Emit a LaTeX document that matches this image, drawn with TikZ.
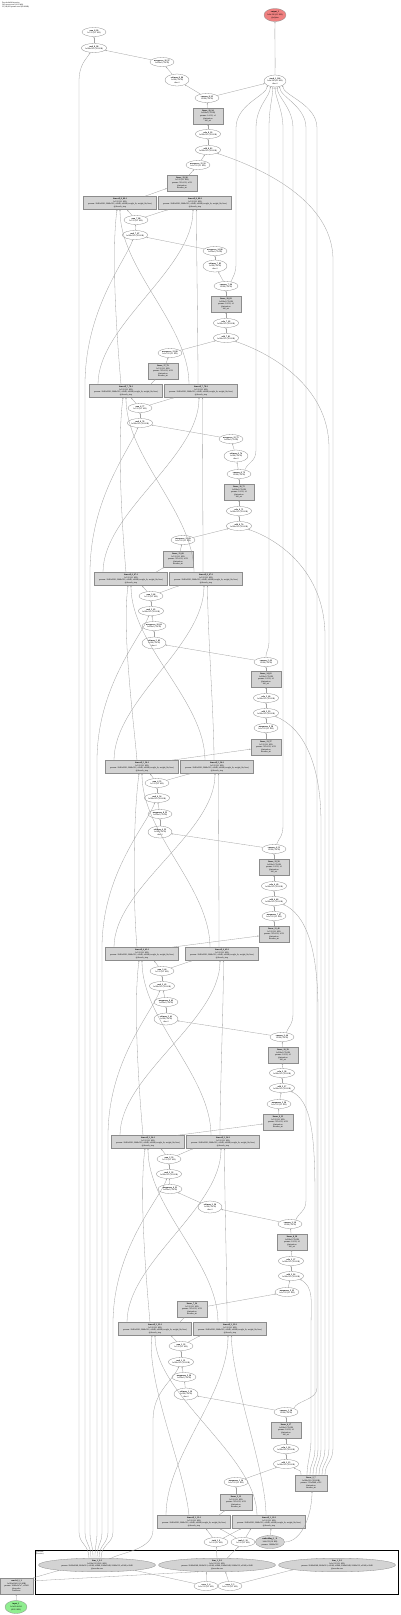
\documentclass[tikz,border=0pt]{standalone}
\usepackage{fontspec}
\setmainfont{Liberation Serif}
\usetikzlibrary{shapes.geometric,arrows.meta,calc}
\definecolor{edgec}{HTML}{A0A0A0}
\definecolor{ndraw}{HTML}{8C8C8C}
\definecolor{boxf}{HTML}{D3D3D3}
\definecolor{outf}{HTML}{F08080}
\definecolor{inf}{HTML}{90EE90}
\newcommand{\nf}{\fontsize{2.1}{2.6}\selectfont}
\newcommand{\hf}{\fontsize{1.9}{2.3}\selectfont}
\newcommand{\lab}[2]{\textbf{#1}\\#2}
\newcommand{\labc}[3]{\textbf{#1}\\#2\\#3}
\newcommand{\labb}[5]{\textbf{#1}\\#2\\#3\\#4\\#5}
\newcommand{\labw}[2]{\textbf{#1}\\#2\\params: 2048x2560, 2048x512, x2048, x2048 (weight\_ih, weight\_hh, bias)\\@decode\_step}
\newcommand{\pairlinks}[4]{%
 \draw[e] ($(#3.north)+(-5,0)$) .. controls +(-4,-45) and +(-6,45) .. ($(#1.south)+(-3,0)$);
 \draw[e] ($(#3.north)+(-28,0)$) .. controls +(0,-60) and +(0,60) .. ($(#2.south)+(-2,0)$);
 \draw[e] ($(#4.north)+(-12,0)$) .. controls +(0,-60) and +(0,60) .. ($(#1.south)+(0,0)$);
 \draw[e] ($(#4.north)+(-3,0)$) .. controls +(0,-45) and +(0,45) .. ($(#2.south)+(1.5,0)$);}
\tikzset{
 ell/.style={ellipse, draw=ndraw, fill=white, line width=0.3pt, minimum width=24pt, minimum height=9pt, inner sep=0pt, align=center, font=\nf},
 ellc/.style={ell, minimum height=12pt},
 gbox/.style={rectangle, draw=ndraw, fill=boxf, line width=0.3pt, minimum width=30pt, minimum height=16pt, inner sep=0pt, align=center, font=\nf},
 wbox/.style={gbox, minimum width=73pt, minimum height=13pt},
 bige/.style={ell, fill=boxf, minimum width=117pt, minimum height=13pt},
 e/.style={draw=edgec, line width=0.3pt, -{Stealth[length=1.6pt,width=1.2pt]}},
}
\begin{document}
\begin{tikzpicture}[x=1pt,y=-1pt]
\useasboundingbox (0,0) rectangle (400,1615);
\fill[white] (0,0) rectangle (400,1615);
\node[anchor=north west, inner sep=0pt, align=left, font=\hf] (hdr) at (2,1.5) {DecoderWithAttention\\342 tensors total (41.3 MB)\\23,546,881 params total (89.8 MB)};
% cluster
\node[draw=black, line width=0.9pt, minimum width=363pt, minimum height=44pt, inner sep=0pt, anchor=north west] (cl) at (35,1550) {};
\node[anchor=north west, inner sep=0.6pt, align=left, font=\hf] (cllab) at (cl.north west) {@encoder\\(Encoder)};
% output
\node[ell, fill=outf, minimum width=22pt, minimum height=13pt] (N0) at (275,15) {\labc{output\_1}{1x8x196 (6.2 KB)}{@alphas}};
% block 8
\node[ell] (N1) at (94,32) {\lab{sum\_8\_99}{1x512 (2.1 KB)}};
\node[ell] (N2) at (94,48) {\lab{mul\_8\_98}{1x196x512 (392 KB)}};
\node[ell] (N3) at (162,62) {\lab{unsqueeze\_16\_97}{1x196x1 (784 B)}};
\node[ellc] (N4) at (177,80) {\labc{softmax\_8\_96}{1x196 (784 B)}{dim=1}};
\node[ellc, minimum width=22pt] (N5) at (275,81) {\labc{stack\_1\_100}{1x8x196 (6.2 KB)}{dim=1}};
\node[ell] (N6) at (207,98) {\lab{squeeze\_8\_95}{1x196 (784 B)}};
\node[gbox] (N7) at (208,116) {\labb{linear\_20\_94}{1x196x1 (784 B)}{params: 1x512, x1}{@attention.}{full\_att}};
\node[ell] (N8) at (208,134) {\lab{relu\_8\_93}{1x196x512 (392 KB)}};
\node[ell] (N9) at (208,150) {\lab{add\_8\_92}{1x196x512 (392 KB)}};
\node[ell] (N10) at (198,165) {\lab{unsqueeze\_15\_91}{1x1x512 (2.1 KB)}};
\node[gbox] (N11) at (182,183) {\labb{linear\_19\_90}{1x512 (2.1 KB)}{params: 512x512, x512}{@attention.}{decoder\_att}};
\node[wbox] (N12) at (120,203) {\labw{lstmcell\_8\_89:1}{1x512 (2.1 KB)}};
\node[wbox] (N13) at (195,203) {\labw{lstmcell\_8\_89:2}{1x512 (2.1 KB)}};
% block 7
\node[ell] (N14) at (136,220) {\lab{sum\_7\_88}{1x512 (2.1 KB)}};
\node[ell] (N15) at (135,235) {\lab{mul\_7\_87}{1x196x512 (392 KB)}};
\node[ell] (N16) at (215,251) {\lab{unsqueeze\_14\_86}{1x196x1 (784 B)}};
\node[ellc] (N17) at (215,266) {\labc{softmax\_7\_85}{1x196 (784 B)}{dim=1}};
\node[ell] (N18) at (226,286) {\lab{squeeze\_7\_84}{1x196 (784 B)}};
\node[gbox] (N19) at (226,304) {\labb{linear\_18\_83}{1x196x1 (784 B)}{params: 1x512, x1}{@attention.}{full\_att}};
\node[ell] (N20) at (226,323) {\lab{relu\_7\_82}{1x196x512 (392 KB)}};
\node[ell] (N21) at (226,338) {\lab{add\_7\_81}{1x196x512 (392 KB)}};
\node[ell] (N22) at (170,353) {\lab{unsqueeze\_13\_80}{1x1x512 (2.1 KB)}};
\node[gbox] (N23) at (163,371) {\labb{linear\_17\_79}{1x512 (2.1 KB)}{params: 512x512, x512}{@attention.}{decoder\_att}};
\node[wbox] (N24) at (126,391) {\labw{lstmcell\_7\_78:1}{1x512 (2.1 KB)}};
\node[wbox] (N25) at (201,391) {\labw{lstmcell\_7\_78:2}{1x512 (2.1 KB)}};
% block 6
\node[ell] (N26) at (140,408) {\lab{sum\_6\_77}{1x512 (2.1 KB)}};
\node[ell] (N27) at (140,423) {\lab{mul\_6\_76}{1x196x512 (392 KB)}};
\node[ell] (N28) at (231,439) {\lab{unsqueeze\_12\_75}{1x196x1 (784 B)}};
\node[ellc] (N29) at (236,456) {\labc{softmax\_6\_74}{1x196 (784 B)}{dim=1}};
\node[ell] (N30) at (239,474) {\lab{squeeze\_6\_73}{1x196 (784 B)}};
\node[gbox] (N31) at (239,492) {\labb{linear\_16\_72}{1x196x1 (784 B)}{params: 1x512, x1}{@attention.}{full\_att}};
\node[ell] (N32) at (239,511) {\lab{relu\_6\_71}{1x196x512 (392 KB)}};
\node[ell] (N33) at (239,526) {\lab{add\_6\_70}{1x196x512 (392 KB)}};
\node[ell] (N34) at (183,540) {\lab{unsqueeze\_11\_69}{1x1x512 (2.1 KB)}};
\node[gbox] (N35) at (178,559) {\labb{linear\_15\_68}{1x512 (2.1 KB)}{params: 512x512, x512}{@attention.}{decoder\_att}};
\node[wbox] (N36) at (131,579) {\labw{lstmcell\_6\_67:1}{1x512 (2.1 KB)}};
\node[wbox] (N37) at (206,579) {\labw{lstmcell\_6\_67:2}{1x512 (2.1 KB)}};
% block 5
\node[ell] (N38) at (151,596) {\lab{sum\_5\_66}{1x512 (2.1 KB)}};
\node[ell] (N39) at (151,611) {\lab{mul\_5\_65}{1x196x512 (392 KB)}};
\node[ell] (N40) at (154,626) {\lab{unsqueeze\_10\_64}{1x196x1 (784 B)}};
\node[ellc] (N41) at (154,643) {\labc{softmax\_5\_63}{1x196 (784 B)}{dim=1}};
\node[ell] (N42) at (266,662) {\lab{squeeze\_5\_62}{1x196 (784 B)}};
\node[gbox] (N43) at (266,679) {\labb{linear\_14\_61}{1x196x1 (784 B)}{params: 1x512, x1}{@attention.}{full\_att}};
\node[ell] (N44) at (266,698) {\lab{relu\_5\_60}{1x196x512 (392 KB)}};
\node[ell] (N45) at (266,713) {\lab{add\_5\_59}{1x196x512 (392 KB)}};
\node[ell] (N46) at (266,728) {\lab{unsqueeze\_9\_58}{1x1x512 (2.1 KB)}};
\node[gbox] (N47) at (266,747) {\labb{linear\_13\_57}{1x512 (2.1 KB)}{params: 512x512, x512}{@attention.}{decoder\_att}};
\node[wbox] (N48) at (142,767) {\labw{lstmcell\_5\_56:1}{1x512 (2.1 KB)}};
\node[wbox] (N49) at (217,767) {\labw{lstmcell\_5\_56:2}{1x512 (2.1 KB)}};
% block 4
\node[ell] (N50) at (157,783) {\lab{sum\_4\_55}{1x512 (2.1 KB)}};
\node[ell] (N51) at (157,798) {\lab{mul\_4\_54}{1x196x512 (392 KB)}};
\node[ell] (N52) at (160,814) {\lab{unsqueeze\_8\_53}{1x196x1 (784 B)}};
\node[ellc] (N53) at (160,832) {\labc{softmax\_4\_52}{1x196 (784 B)}{dim=1}};
\node[ell] (N54) at (274,849) {\lab{squeeze\_4\_51}{1x196 (784 B)}};
\node[gbox] (N55) at (274,867) {\labb{linear\_12\_50}{1x196x1 (784 B)}{params: 1x512, x1}{@attention.}{full\_att}};
\node[ell] (N56) at (274,886) {\lab{relu\_4\_49}{1x196x512 (392 KB)}};
\node[ell] (N57) at (274,901) {\lab{add\_4\_48}{1x196x512 (392 KB)}};
\node[ell] (N58) at (274,916) {\lab{unsqueeze\_7\_47}{1x1x512 (2.1 KB)}};
\node[gbox] (N59) at (274,934) {\labb{linear\_11\_46}{1x512 (2.1 KB)}{params: 512x512, x512}{@attention.}{decoder\_att}};
\node[wbox] (N60) at (142,954) {\labw{lstmcell\_4\_45:1}{1x512 (2.1 KB)}};
\node[wbox] (N61) at (222,954) {\labw{lstmcell\_4\_45:2}{1x512 (2.1 KB)}};
% block 3
\node[ell] (N62) at (162,971) {\lab{sum\_3\_44}{1x512 (2.1 KB)}};
\node[ell] (N63) at (162,986) {\lab{mul\_3\_43}{1x196x512 (392 KB)}};
\node[ell] (N64) at (166,1002) {\lab{unsqueeze\_6\_42}{1x196x1 (784 B)}};
\node[ellc] (N65) at (166,1019) {\labc{softmax\_3\_41}{1x196 (784 B)}{dim=1}};
\node[ell] (N66) at (282,1037) {\lab{squeeze\_3\_40}{1x196 (784 B)}};
\node[gbox] (N67) at (283,1055) {\labb{linear\_10\_39}{1x196x1 (784 B)}{params: 1x512, x1}{@attention.}{full\_att}};
\node[ell] (N68) at (282,1073) {\lab{relu\_3\_38}{1x196x512 (392 KB)}};
\node[ell] (N69) at (282,1088) {\lab{add\_3\_37}{1x196x512 (392 KB)}};
\node[ell] (N70) at (279,1104) {\lab{unsqueeze\_5\_36}{1x1x512 (2.1 KB)}};
\node[gbox] (N71) at (278,1122) {\labb{linear\_9\_35}{1x512 (2.1 KB)}{params: 512x512, x512}{@attention.}{decoder\_att}};
\node[wbox] (N72) at (148,1142) {\labw{lstmcell\_3\_34:1}{1x512 (2.1 KB)}};
\node[wbox] (N73) at (223,1142) {\labw{lstmcell\_3\_34:2}{1x512 (2.1 KB)}};
% block 2
\node[ell] (N74) at (169,1159) {\lab{sum\_2\_33}{1x512 (2.1 KB)}};
\node[ell] (N75) at (169,1174) {\lab{mul\_2\_32}{1x196x512 (392 KB)}};
\node[ell] (N76) at (170,1189) {\lab{unsqueeze\_4\_31}{1x196x1 (784 B)}};
\node[ellc] (N77) at (210,1207) {\labc{softmax\_2\_30}{1x196 (784 B)}{dim=1}};
\node[ell] (N78) at (290,1224) {\lab{squeeze\_2\_29}{1x196 (784 B)}};
\node[gbox] (N79) at (292,1242) {\labb{linear\_8\_28}{1x196x1 (784 B)}{params: 1x512, x1}{@attention.}{full\_att}};
\node[ell] (N80) at (291,1261) {\lab{relu\_2\_27}{1x196x512 (392 KB)}};
\node[ell] (N81) at (291,1276) {\lab{add\_2\_26}{1x196x512 (392 KB)}};
\node[ell] (N82) at (287,1292) {\lab{unsqueeze\_3\_25}{1x1x512 (2.1 KB)}};
\node[gbox] (N83) at (192,1309) {\labb{linear\_7\_24}{1x512 (2.1 KB)}{params: 512x512, x512}{@attention.}{decoder\_att}};
\node[wbox] (N84) at (155,1329) {\labw{lstmcell\_2\_23:1}{1x512 (2.1 KB)}};
\node[wbox] (N85) at (230,1329) {\labw{lstmcell\_2\_23:2}{1x512 (2.1 KB)}};
% block 1
\node[ell] (N86) at (181,1346) {\lab{sum\_1\_22}{1x512 (2.1 KB)}};
\node[ell] (N87) at (181,1362) {\lab{mul\_1\_21}{1x196x512 (392 KB)}};
\node[ell] (N88) at (184,1377) {\lab{unsqueeze\_2\_20}{1x196x1 (784 B)}};
\node[ellc] (N89) at (186,1394) {\labc{softmax\_1\_19}{1x196 (784 B)}{dim=1}};
\node[ell] (N90) at (286,1412) {\lab{squeeze\_1\_18}{1x196 (784 B)}};
\node[gbox] (N91) at (286,1430) {\labb{linear\_6\_17}{1x196x1 (784 B)}{params: 1x512, x1}{@attention.}{full\_att}};
\node[ell] (N92) at (286,1449) {\lab{relu\_1\_16}{1x196x512 (392 KB)}};
\node[ell] (N93) at (286,1464) {\lab{add\_1\_15}{1x196x512 (392 KB)}};
\node[ell] (N94) at (236,1482) {\lab{unsqueeze\_1\_14}{1x1x512 (2.1 KB)}};
\node[gbox, minimum width=32pt] (N95) at (311,1483) {\labb{linear\_2\_7}{1x196x512 (392 KB)}{params: 512x2048, x512}{@attention.}{encoder\_att}};
\node[gbox, minimum width=32pt] (N96) at (236,1502) {\labb{linear\_5\_13}{1x512 (2.1 KB)}{params: 512x512, x512}{@attention.}{decoder\_att}};
\node[wbox] (N97) at (194,1522) {\labw{lstmcell\_1\_12:1}{1x512 (2.1 KB)}};
\node[wbox] (N98) at (269,1522) {\labw{lstmcell\_1\_12:2}{1x512 (2.1 KB)}};
\node[ell] (N99) at (216,1542) {\lab{tanh\_1\_9}{1x512 (2.1 KB)}};
\node[ell] (N100) at (243,1542) {\lab{tanh\_2\_10}{1x512 (2.1 KB)}};
\node[ellc, fill=boxf, minimum width=29pt, minimum height=13pt] (N101) at (270,1542) {\labc{embedding\_1\_11}{1x8x512 (16 KB)}{params: 10000x512}};
% encoder cluster
\node[bige] (N102) at (97,1565) {\textbf{lstm\_1\_3:1}\\1x196x512 (392.1 KB)\\params: 2048x2048, 2048x512, x2048, x2048, 2048x2048, 2048x512, x2048, x2048\\@encoder.rnn};
\node[bige] (N103) at (217,1565) {\textbf{lstm\_1\_3:2}\\1x1x512 (2.1 KB)\\params: 2048x2048, 2048x512, x2048, x2048, 2048x2048, 2048x512, x2048, x2048\\@encoder.rnn};
\node[bige] (N104) at (337,1565) {\textbf{lstm\_1\_3:3}\\1x1x512 (2.1 KB)\\params: 2048x2048, 2048x512, x2048, x2048, 2048x2048, 2048x512, x2048, x2048\\@encoder.rnn};
\node[ell] (N105) at (206,1586) {\lab{zeros\_1\_4}{1x1x512 (2.1 KB)}};
\node[ell] (N106) at (230,1586) {\lab{zeros\_2\_5}{1x1x512 (2.1 KB)}};
\node[gbox, minimum width=33pt] (N107) at (16.5,1586) {\labb{conv2d\_1\_2}{1x196x2048 (1.6 MB)}{params: 2048x3x7x7, x2048}{@encoder.}{backbone}};
\node[ellc, fill=inf, minimum width=22pt, minimum height=13pt] (N108) at (16,1607) {\labc{input\_1}{1x3x224x224}{(602.2 KB)}};

% ---------- chain edges ----------
\draw[e] (N5.north) .. controls +(0.4,-20) and +(-0.4,20) .. (N0.south);
\draw[e] (N2) -- (N1);
\draw[e] (N3) -- (N2);
\draw[e] (N4) -- (N3);
\draw[e] (N6) -- (N4);
\draw[e] (N6) -- (N5);
\draw[e] (N7) -- (N6);
\draw[e] (N8) -- (N7);
\draw[e] (N9) -- (N8);
\draw[e] (N10) -- (N9);
\draw[e] (N11) -- (N10);
\draw[e] ($(N12.north east)+(-12,0)$) -- (N11);
\draw[e] (N14) -- ($(N12.south)+(7,0)$);
\draw[e] (N14) -- ($(N13.south)+(-27,0)$);
\draw[e] (N15) -- (N14);
\draw[e] (N16) -- (N15);
\draw[e] (N17) -- (N16);
\draw[e] (N18) -- (N17);
\draw[e] (N19) -- (N18);
\draw[e] (N20) -- (N19);
\draw[e] (N21) -- (N20);
\draw[e] (N22) -- (N21);
\draw[e] (N23) -- (N22);
\draw[e] ($(N24.north east)+(-12,0)$) -- (N23);
\draw[e] (N26) -- ($(N24.south)+(5,0)$);
\draw[e] (N26) -- ($(N25.south)+(-27,0)$);
\draw[e] (N27) -- (N26);
\draw[e] (N28) -- (N27);
\draw[e] (N29) -- (N28);
\draw[e] (N30) -- (N29);
\draw[e] (N31) -- (N30);
\draw[e] (N32) -- (N31);
\draw[e] (N33) -- (N32);
\draw[e] (N34) -- (N33);
\draw[e] (N35) -- (N34);
\draw[e] ($(N36.north east)+(-12,0)$) -- (N35);
\draw[e] (N38) -- ($(N36.south)+(11,0)$);
\draw[e] (N38) -- ($(N37.south)+(-27,0)$);
\draw[e] (N39) -- (N38);
\draw[e] (N40) -- (N39);
\draw[e] (N41) -- (N40);
\draw[e] (N42) -- (N41);
\draw[e] (N43) -- (N42);
\draw[e] (N44) -- (N43);
\draw[e] (N45) -- (N44);
\draw[e] (N46) -- (N45);
\draw[e] (N47) -- (N46);
\draw[e] ($(N48.north east)+(-8,0)$) -- (N47);
\draw[e] (N50) -- ($(N48.south)+(8,0)$);
\draw[e] (N50) -- ($(N49.south)+(-27,0)$);
\draw[e] (N51) -- (N50);
\draw[e] (N52) -- (N51);
\draw[e] (N53) -- (N52);
\draw[e] (N54) -- (N53);
\draw[e] (N55) -- (N54);
\draw[e] (N56) -- (N55);
\draw[e] (N57) -- (N56);
\draw[e] (N58) -- (N57);
\draw[e] (N59) -- (N58);
\draw[e] ($(N60.north east)+(-8,0)$) -- (N59);
\draw[e] (N62) -- ($(N60.south)+(12,0)$);
\draw[e] (N62) -- ($(N61.south)+(-30,0)$);
\draw[e] (N63) -- (N62);
\draw[e] (N64) -- (N63);
\draw[e] (N65) -- (N64);
\draw[e] (N66) -- (N65);
\draw[e] (N67) -- (N66);
\draw[e] (N68) -- (N67);
\draw[e] (N69) -- (N68);
\draw[e] (N70) -- (N69);
\draw[e] (N71) -- (N70);
\draw[e] ($(N72.north east)+(-8,0)$) -- (N71);
\draw[e] (N74) -- ($(N72.south)+(13,0)$);
\draw[e] (N74) -- ($(N73.south)+(-30,0)$);
\draw[e] (N75) -- (N74);
\draw[e] (N76) -- (N75);
\draw[e] (N77) -- (N76);
\draw[e] (N78) -- (N77);
\draw[e] (N79) -- (N78);
\draw[e] (N80) -- (N79);
\draw[e] (N81) -- (N80);
\draw[e] (N82) -- (N81);
\draw[e] (N83) -- (N82);
\draw[e] ($(N84.north east)+(-12,0)$) -- (N83);
\draw[e] (N86) -- ($(N84.south)+(16,0)$);
\draw[e] (N86) -- ($(N85.south)+(-30,0)$);
\draw[e] (N87) -- (N86);
\draw[e] (N88) -- (N87);
\draw[e] (N89) -- (N88);
\draw[e] (N90) -- (N89);
\draw[e] (N91) -- (N90);
\draw[e] (N92) -- (N91);
\draw[e] (N93) -- (N92);
\draw[e] (N94) -- (N93);
\draw[e] (N96) -- (N94);
\draw[e] ($(N97.north east)+(-12,0)$) -- (N96);
% bottom inputs to first pair
\draw[e] (N99) -- ($(N97.south)+(12,0)$);
\draw[e] (N99) -- ($(N98.south)+(-28,0)$);
\draw[e] (N100) -- ($(N97.south)+(26,0)$);
\draw[e] (N100) -- ($(N98.south)+(-18,0)$);
\draw[e] (N101) -- ($(N98.south)+(2,0)$);
\draw[e] (N101.east) .. controls +(18,0) and +(0,22) .. ($(N95.south)+(1,0)$);
\draw[e] (N103.north) -- (N99);
\draw[e] ($(N103.north)+(10,0.3)$) -- (N100);
% cluster inputs
\draw[e] (N105) -- (N102.-8);
\draw[e] (N105) -- (N103.-147);
\draw[e] (N106) -- (N103.-39);
\draw[e] (N106) -- (N104.-174);
\draw[e] (N107.north east) -- (N102.-172);
\draw[e] ($(N107.north east)+(0,3)$) -- (N103.-160);
\draw[e] (N108) -- (N107);

% ---------- links between LSTM pairs ----------
\pairlinks{N12}{N13}{N24}{N25}
\pairlinks{N24}{N25}{N36}{N37}
\pairlinks{N36}{N37}{N48}{N49}
\pairlinks{N48}{N49}{N60}{N61}
\pairlinks{N60}{N61}{N72}{N73}
\pairlinks{N72}{N73}{N84}{N85}
\pairlinks{N84}{N85}{N97}{N98}

% ---------- attention weights to stack ----------
\draw[e] (N18.40) .. controls +(3,-8) and +(0,12) .. (236,262) -- (236,128) .. controls (236,104) and ($(N5.-150)+(0,10)$) .. (N5.-150);
\draw[e] (N30.35) .. controls +(3,-8) and +(0,12) .. (256,450) -- (256,128) .. controls (256,106) and ($(N5.-130)+(0,10)$) .. (N5.-130);
\draw[e] (N42.north) .. controls +(0,-8) and +(0,12) .. (269,640) -- (269,128) .. controls (269,108) and ($(N5.-110)+(0,10)$) .. (N5.-110);
\draw[e] (N54.60) .. controls +(3,-8) and +(0,12) .. (283,825) -- (283,128) .. controls (283,110) and ($(N5.-90)+(0,10)$) .. (N5.-90);
\draw[e] (N66.45) .. controls +(3,-8) and +(0,12) .. (293,1013) -- (293,128) .. controls (293,108) and ($(N5.-70)+(0,10)$) .. (N5.-70);
\draw[e] (N78.35) .. controls +(3,-8) and +(0,12) .. (306,1200) -- (306,128) .. controls (306,106) and ($(N5.-50)+(0,10)$) .. (N5.-50);
\draw[e] (N90.25) .. controls +(3,-8) and +(0,12) .. (317,1388) -- (317,128) .. controls (317,104) and ($(N5.-30)+(0,10)$) .. (N5.-30);

% ---------- encoder projection to adds ----------
\draw[e] ($(N95.north)+(14,0)$) .. controls +(0,-12) and +(0,14) .. (333,1448) -- (333,260) .. controls (333,195) and ($(N9.-20)+(30,10)$) .. (N9.-20);
\draw[e] ($(N95.north)+(11,0)$) .. controls +(0,-12) and +(0,14) .. (329,1448) -- (329,448) .. controls (329,383) and ($(N21.-20)+(30,10)$) .. (N21.-20);
\draw[e] ($(N95.north)+(8,0)$) .. controls +(0,-12) and +(0,14) .. (325,1448) -- (325,636) .. controls (325,571) and ($(N33.-20)+(30,10)$) .. (N33.-20);
\draw[e] ($(N95.north)+(5,0)$) .. controls +(0,-12) and +(0,14) .. (321,1448) -- (321,823) .. controls (321,758) and ($(N45.-20)+(25,10)$) .. (N45.-20);
\draw[e] ($(N95.north)+(2,0)$) .. controls +(0,-12) and +(0,14) .. (318,1448) -- (318,1011) .. controls (318,946) and ($(N57.-20)+(22,10)$) .. (N57.-20);
\draw[e] ($(N95.north)+(-1,0)$) .. controls +(0,-12) and +(0,14) .. (315,1448) -- (315,1198) .. controls (315,1133) and ($(N69.-20)+(20,10)$) .. (N69.-20);
\draw[e] ($(N95.north)+(-4,0)$) .. controls +(0,-12) and +(0,14) .. (311,1440) -- (311,1330) .. controls (311,1300) and ($(N81.-20)+(14,8)$) .. (N81.-20);
\draw[e] ($(N95.north)+(-10,0)$) .. controls +(0,-6) and +(6,4) .. (N93.-25);

% ---------- encoder output to mul nodes ----------
\draw[e] ($(N102.north)+(-8,0.3)$) .. controls +(0,-14) and +(0,12) .. (79,1532) -- (79,82) .. controls (79,64) and ($(N2.-130)+(-4,7)$) .. (N2.-130);
\draw[e] ($(N102.north)+(-6,0.2)$) .. controls +(0,-14) and +(0,12) .. (85,1532) -- (85,385) .. controls (85,310) and ($(N15.-115)+(-8,22)$) .. (N15.-115);
\draw[e] ($(N102.north)+(-4,0.1)$) .. controls +(0,-14) and +(0,12) .. (90,1532) -- (90,573) .. controls (90,498) and ($(N27.-115)+(-8,22)$) .. (N27.-115);
\draw[e] ($(N102.north)+(-2,0)$) .. controls +(0,-14) and +(0,12) .. (97,1532) -- (97,761) .. controls (97,686) and ($(N39.-115)+(-8,22)$) .. (N39.-115);
\draw[e] ($(N102.north)+(0,0)$) .. controls +(0,-14) and +(0,12) .. (102,1532) -- (102,948) .. controls (102,873) and ($(N51.-115)+(-8,22)$) .. (N51.-115);
\draw[e] ($(N102.north)+(2,0)$) .. controls +(0,-14) and +(0,12) .. (108,1532) -- (108,1136) .. controls (108,1061) and ($(N63.-115)+(-8,22)$) .. (N63.-115);
\draw[e] ($(N102.north)+(4,0.1)$) .. controls +(0,-14) and +(0,12) .. (113,1532) -- (113,1324) .. controls (113,1249) and ($(N75.-115)+(-8,22)$) .. (N75.-115);
\draw[e] ($(N102.north)+(14,0.3)$) .. controls +(10,-6) and (153,1550) .. (153,1530) -- (153,1420) .. controls (153,1392) and ($(N87.-115)+(-6,14)$) .. (N87.-115);
\end{tikzpicture}
\end{document}
